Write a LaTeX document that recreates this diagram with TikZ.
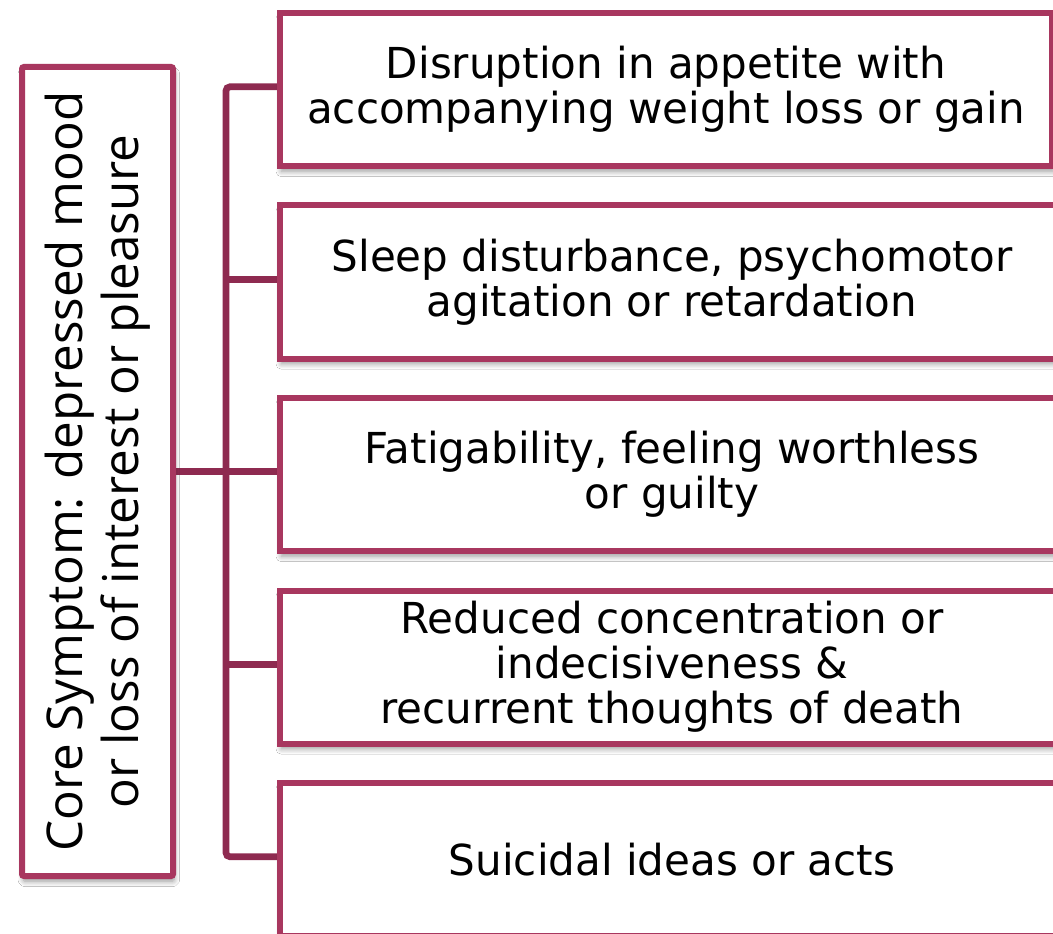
\documentclass[tikz,border=0pt]{standalone}
\usepackage{fontspec}
\setmainfont{DejaVu Sans}
\newfontfamily\itemfont[FakeStretch=0.985]{DejaVu Sans}
\newfontfamily\corefont{Open Sans}
\usetikzlibrary{shadows.blur}

\definecolor{boxline}{HTML}{A8375F}
\definecolor{connline}{HTML}{8E2A50}

\tikzset{
  boxshadow/.style={blur shadow={shadow xshift=1pt, shadow yshift=-4pt,
    shadow blur steps=8, shadow blur radius=4pt, shadow opacity=40}},
  symptom/.style={draw=boxline, line width=4.5pt, fill=white, anchor=north west,
    minimum height=114.75pt, inner sep=0pt, align=center,
    font=\itemfont\fontsize{32pt}{33.75pt}\selectfont, boxshadow},
  core/.style={draw=boxline, line width=4.5pt, fill=white, rounded corners=1.5pt,
    minimum width=113.25pt, minimum height=606.75pt, inner sep=0pt, boxshadow},
  anchorbox/.style={anchor=north west, minimum height=114.75pt, inner sep=0pt},
  conn/.style={draw=connline, line width=5pt, rounded corners=3pt}
}

\begin{document}
\begin{tikzpicture}[x=0.75pt, y=-0.75pt]
  \clip (0,0) rectangle (1053,934);
  \fill[white] (0,0) rectangle (1053,934);

  % x position of the vertical bar of the bracket
  \coordinate (spine) at (226,0);

  % invisible frames that fix where the boxes go
  \path
    (97.5,471.5) node[minimum width=113.25pt, minimum height=606.75pt, inner sep=0pt] (core) {}
    (277,10)    node[anchorbox, minimum width=579pt] (b1) {}
    (277,202.5) node[anchorbox, minimum width=588pt] (b2) {}
    (277,395)   node[anchorbox, minimum width=588pt] (b3) {}
    (277,587.5) node[anchorbox, minimum width=588pt] (b4) {}
    (277,780)   node[anchorbox, minimum width=588pt] (b5) {};

  % bracket joining the core symptom to the list
  \draw[conn] (b1.west) -- (b1.west -| spine) -- (b5.west -| spine) -- (b5.west);
  \draw[conn, rounded corners=0pt] (b2.west -| spine) -- (b2.west);
  \draw[conn, rounded corners=0pt] (b3.west -| spine) -- (b3.west);
  \draw[conn, rounded corners=0pt] (b4.west -| spine) -- (b4.west);
  \draw[conn, rounded corners=0pt] (core.east) -- (core.east -| spine);

  % core symptom box
  \node[core] (corebox) at (core) {};
  \node[rotate=90, align=center, font=\corefont\fontsize{37pt}{42pt}\selectfont] (coretext) at (corebox.center)
    {Core Symptom: depressed mood\\or loss of interest or pleasure};

  % symptom boxes
  \node[symptom, minimum width=579pt] (s1) at (b1.north west)
    {Disruption in appetite with\\accompanying weight loss or gain};
  \node[symptom, minimum width=588pt] (s2) at (b2.north west)
    {\makebox[579pt]{Sleep disturbance, psychomotor}\\\makebox[579pt]{agitation or retardation}};
  \node[symptom, minimum width=588pt] (s3) at (b3.north west)
    {\makebox[579pt]{Fatigability, feeling worthless}\\\makebox[579pt]{or guilty}};
  \node[symptom, minimum width=588pt] (s4) at (b4.north west)
    {\makebox[579pt]{Reduced concentration or}\\\makebox[579pt]{indecisiveness \&}\\\makebox[579pt]{recurrent thoughts of death}};
  \node[symptom, minimum width=588pt] (s5) at (b5.north west)
    {\makebox[579pt]{Suicidal ideas or acts}};
\end{tikzpicture}
\end{document}
